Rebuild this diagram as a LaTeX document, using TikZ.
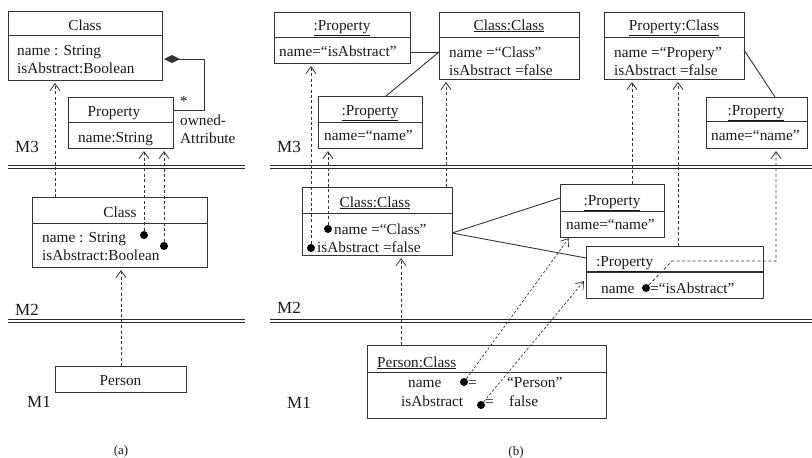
\documentclass[tikz,border=0pt]{standalone}
\usepackage{fontspec}
\setmainfont{Liberation Serif}
\usetikzlibrary{arrows.meta}
\newcommand\bodyfont{\fontsize{15.3}{18}\selectfont}
\newcommand\levfont{\fontsize{17}{20}\selectfont}
\newcommand\capfont{\fontsize{13}{15}\selectfont}
\tikzset{
  ln/.style={draw=black!80, line width=0.9pt},
  box/.style={ln, rectangle, inner sep=0pt, outer sep=0pt, anchor=north west},
  t/.style={inner sep=0pt, anchor=base west, font=\bodyfont, text=black!90},
  tc/.style={t, anchor=base},
  lev/.style={inner sep=0pt, anchor=base west, font=\levfont, text=black!90},
  capt/.style={inner sep=0pt, anchor=base, font=\capfont, text=black!90},
  dot/.style={circle, fill=black, inner sep=0pt, minimum size=8pt},
  dep/.style={draw=black!80, line width=0.8pt, dash pattern=on 3pt off 2.4pt,
    -{Straight Barb[length=7pt,width=10pt]}, shorten >=3pt},
  dep2/.style={dep, dash pattern=on 2.5pt off 2pt, line width=0.7pt, shorten >=0pt},
  dbl/.style={draw=black!85, line width=0.9pt},
}
\begin{document}
\begin{tikzpicture}[x=1pt,y=-1pt]
\useasboundingbox (0,0) rectangle (812,458);

% ---------------- panel (a) ----------------
\node[box, minimum width=154pt, minimum height=69pt] (c3) at (8,11) {};
\draw[ln] (c3.west |- 0,35) -- (c3.east |- 0,35);
\node[tc] (c3h) at (85,30) {Class};
\node[t] (c3a) at (17,55) {name : String};
\node[t] (c3b) at (17,73) {isAbstract:Boolean};

\node[box, minimum width=105pt, minimum height=51pt] (p3) at (68,97) {};
\draw[ln] (p3.west |- 0,122) -- (p3.east |- 0,122);
\node[tc] (p3h) at (114,116) {Property};
\node[t] (p3a) at (78,142) {name:String};

\draw[ln, {Diamond[length=16pt,width=8pt]}-, shorten <=2pt] (c3.east |- 0,59) -- (204,59) -- (204,110) -- (p3.east |- 0,110);
\node[tc] (star) at (184,106) {*};
\node[t] (ow1) at (180,125) {owned-};
\node[t] (ow2) at (180,143) {Attribute};

\node[lev] (m3a) at (15,152) {M3};
\draw[dbl] (8,165.5) -- (245,165.5);
\draw[dbl] (8,168.5) -- (245,168.5);

\node[box, minimum width=175pt, minimum height=70pt] (c2) at (32,197) {};
\draw[ln] (c2.west |- 0,223) -- (c2.east |- 0,223);
\node[tc] (c2h) at (120,217) {Class};
\node[t] (c2a) at (42,242) {name : String};
\node[t] (c2b) at (42,260) {isAbstract:Boolean};
\node[dot] (da1) at (144,235) {};
\node[dot] (da2) at (164,246) {};

\draw[dep] (55,0 |- c2.north) -- (55,0 |- c3.south);
\draw[dep] (da1) -- (144,0 |- p3.south);
\draw[dep] (da2) -- (164,0 |- p3.south);

\node[lev] (m2a) at (15,315) {M2};
\draw[dbl] (8,319.5) -- (245,319.5);
\draw[dbl] (8,322.5) -- (245,322.5);

\node[box, minimum width=131pt, minimum height=26pt] (pers) at (55,366) {};
\node[tc] (persn) at (120.5,385) {Person};
\draw[dep] (121,0 |- pers.north) -- (121,0 |- c2.south);

\node[lev] (m1a) at (27,407) {M1};
\node[capt] (capa) at (121,454) {(a)};

% ---------------- panel (b) ----------------
% M3 level
\node[box, minimum width=136pt, minimum height=51pt] (pa3) at (274,12) {};
\draw[ln] (pa3.west |- 0,37) -- (pa3.east |- 0,37);
\node[tc] (pa3h) at (342,30) {\underline{:Property}};
\node[t] (pa3a) at (279,56) {name=“isAbstract”};

\node[box, minimum width=140pt, minimum height=67pt] (cc3) at (439,12) {};
\draw[ln] (cc3.west |- 0,37) -- (cc3.east |- 0,37);
\node[tc] (cc3h) at (509,30) {\underline{Class:Class}};
\node[t] (cc3a) at (449,57) {name =“Class”};
\node[t] (cc3b) at (449,75) {isAbstract =false};

\node[box, minimum width=104pt, minimum height=52pt] (pn3) at (318,96) {};
\draw[ln] (pn3.west |- 0,122) -- (pn3.east |- 0,122);
\node[tc] (pn3h) at (370,115) {\underline{:Property}};
\node[t] (pn3a) at (324,140) {name=“name”};

\node[box, minimum width=140pt, minimum height=67pt] (pc3) at (604,12) {};
\draw[ln] (pc3.west |- 0,37) -- (pc3.east |- 0,37);
\node[tc] (pc3h) at (674,30) {\underline{Property:Class}};
\node[t] (pc3a) at (614,57) {name =“Propery”};
\node[t] (pc3b) at (614,75) {isAbstract =false};

\node[box, minimum width=101pt, minimum height=51pt] (pn3b) at (706,97) {};
\draw[ln] (pn3b.west |- 0,121) -- (pn3b.east |- 0,121);
\node[tc] (pn3bh) at (756,115) {\underline{:Property}};
\node[t] (pn3ba) at (711,140) {name=“name”};

\coordinate (j1) at (cc3.west |- 0,52);
\draw[ln] (pa3.east |- j1) -- (j1);
\draw[ln] (j1) -- (386,0 |- pn3.north);
\draw[ln] (pc3.east |- 0,50) -- (775,0 |- pn3b.north);

\node[lev] (m3b) at (277,152) {M3};
\draw[dbl] (270,165.5) -- (812,165.5);
\draw[dbl] (270,168.5) -- (812,168.5);

% M2 level
\node[box, minimum width=150pt, minimum height=68pt] (ccm2) at (302,187) {};
\draw[ln] (ccm2.west |- 0,213) -- (ccm2.east |- 0,213);
\node[tc] (ccm2h) at (375,207) {\underline{Class:Class}};
\node[t] (ccm2a) at (334,234) {name =“Class”};
\node[t] (ccm2b) at (317,252) {isAbstract =false};
\node[dot] (db1) at (328,229) {};
\node[dot] (db2) at (311,248) {};

\node[box, minimum width=104pt, minimum height=53pt] (pnm2) at (560,184) {};
\draw[ln] (pnm2.west |- 0,211) -- (pnm2.east |- 0,211);
\node[tc] (pnm2h) at (612,205) {\underline{:Property}};
\node[t] (pnm2a) at (566,229) {name=“name”};

\node[box, minimum width=177pt, minimum height=52pt] (pam2) at (586,246) {};
\draw[ln, line width=1.6pt] (pam2.west |- 0,272) -- (pam2.east |- 0,272);
\node[t] (pam2h) at (596,266) {\underline{:Property}};
\node[t] (pam2a) at (601,293) {name};
\node[t] (pam2b) at (650,293) {=“isAbstract”};
\node[dot] (db3) at (646,288) {};

\draw[ln] (ccm2.east |- 0,233) -- (pnm2.west |- 0,198);
\draw[ln] (ccm2.east |- 0,233) -- (pam2.west |- 0,258);

\draw[dep] (446,0 |- ccm2.north) -- (446,0 |- cc3.south);
\draw[dep] (db2) -- (311,0 |- pa3.south);
\draw[dep] (db1) -- (328,0 |- pn3.south);
\draw[dep] (632,0 |- pnm2.north) -- (632,0 |- pc3.south);
\draw[dep] (678,0 |- pam2.north) -- (678,0 |- pc3.south);
\coordinate (k1) at (672,261);
\coordinate (k2) at (776,261);
\draw[dep] (db3) -- (k1) -- (k2) -- (776,0 |- pn3b.south);

\node[lev] (m2b) at (277,313) {M2};
\draw[dbl] (270,319.5) -- (812,319.5);
\draw[dbl] (270,322.5) -- (812,322.5);

% M1 level
\node[box, minimum width=239pt, minimum height=73pt] (pcm1) at (367,345) {};
\draw[ln] (pcm1.west |- 0,372) -- (pcm1.east |- 0,372);
\node[t] (pcm1h) at (377,367) {\underline{Person:Class}};
\node[t] (r1a) at (408,387) {name};
\node[t] (r1b) at (468,387) {=};
\node[t] (r1c) at (507,387) {“Person”};
\node[t] (r2a) at (401,406) {isAbstract};
\node[t] (r2b) at (485,406) {=};
\node[t] (r2c) at (509,406) {false};
\node[dot] (db4) at (464,382) {};
\node[dot] (db5) at (481,405) {};

\draw[dep] (401,0 |- pcm1.north) -- (401,0 |- ccm2.south);
\coordinate (t1) at (569,238);
\coordinate (t2) at (584,281);
\draw[dep2] (db4) -- (t1);
\draw[dep2] (db5) -- (t2);

\node[lev] (m1b) at (287,408) {M1};
\node[capt] (capb) at (516,455) {(b)};
\end{tikzpicture}
\end{document}
